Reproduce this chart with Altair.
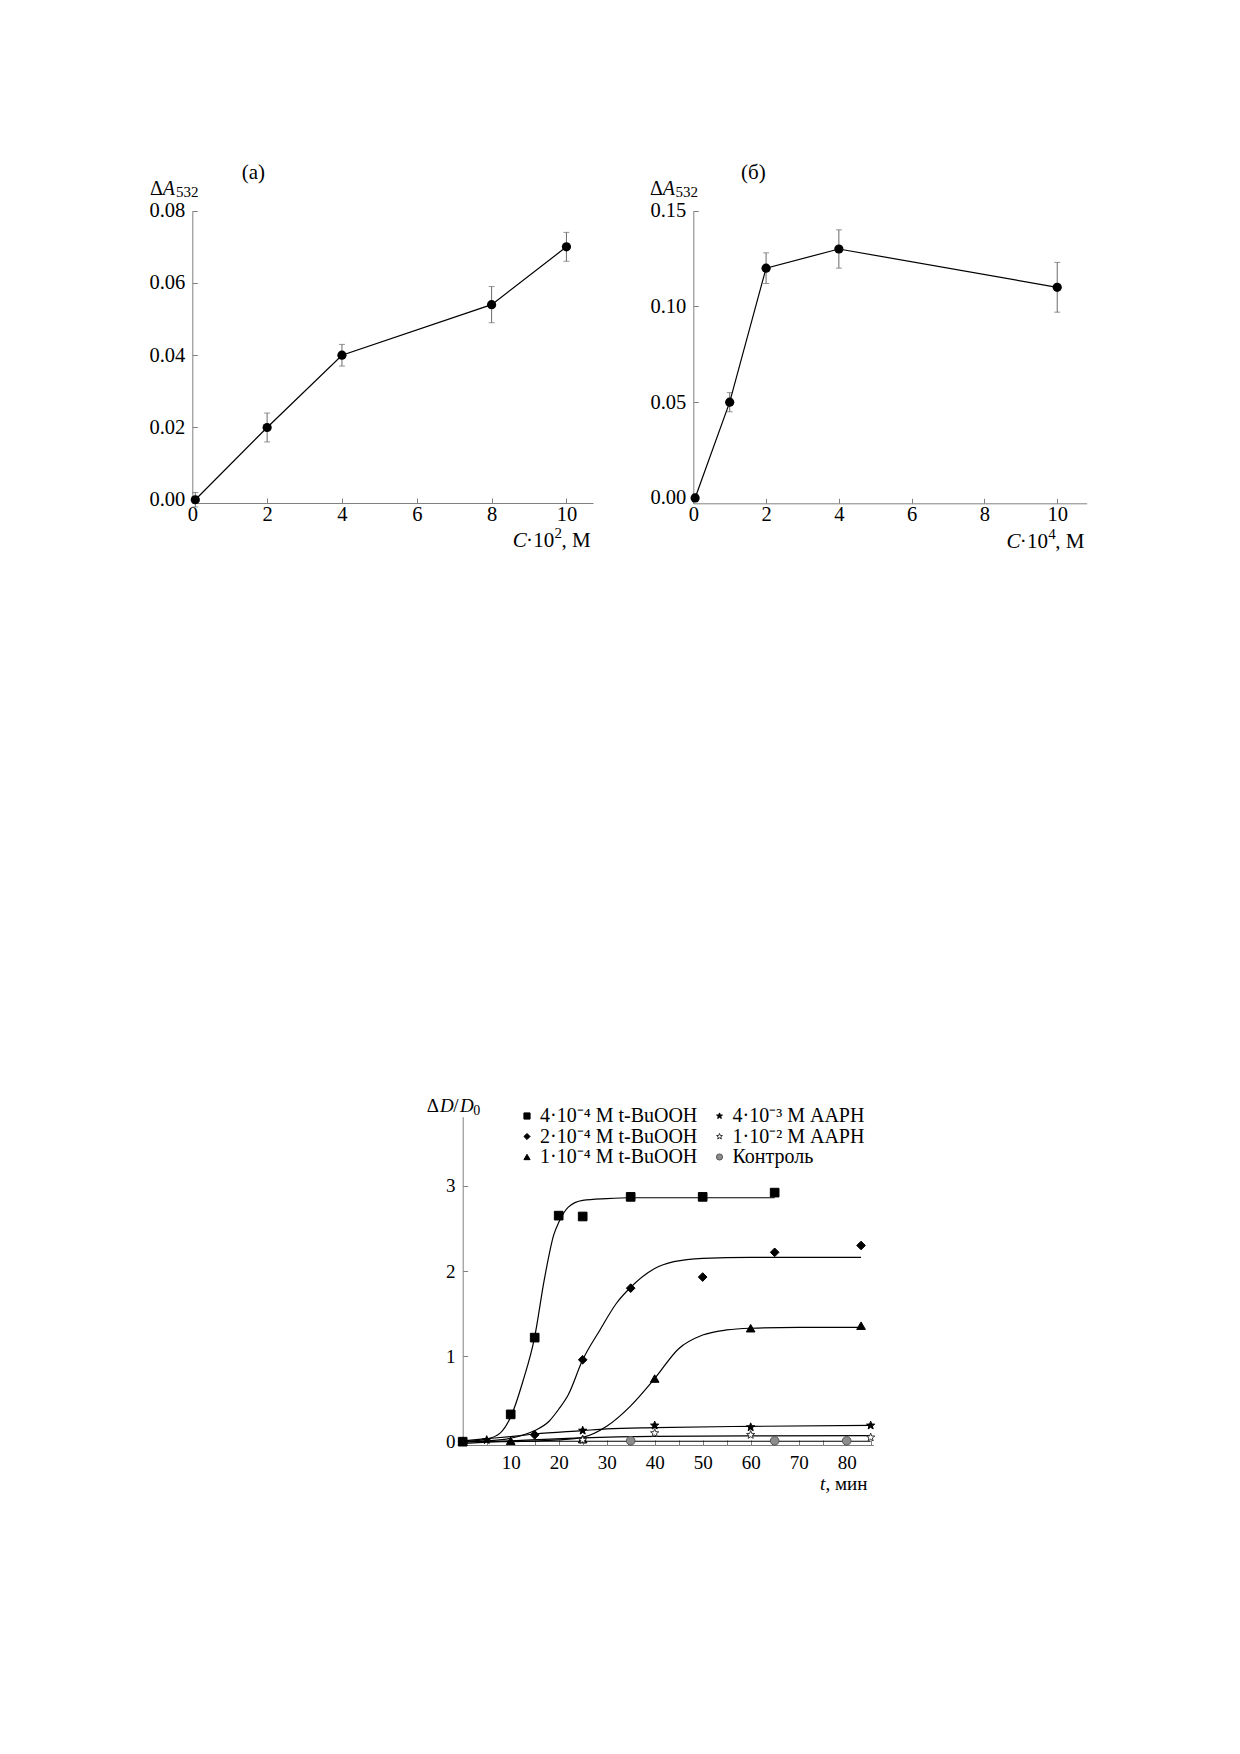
import altair as alt
import pandas as pd

FONT = "Liberation Serif"
W, H = 1224, 1540
AX = "#808080"

# ---------------- data: panel (a) ----------------
a_conc = [0.08, 2, 4, 8, 10]
a_dA = [0.0, 0.020, 0.040, 0.054, 0.070]
a_err = [0.002, 0.004, 0.003, 0.005, 0.004]
a_xticks = [0, 2, 4, 6, 8, 10]
a_yticks = [0.0, 0.02, 0.04, 0.06, 0.08]

# ---------------- data: panel (б) ----------------
b_conc = [0.05, 1, 2, 4, 10]
b_dA = [0.0, 0.050, 0.120, 0.130, 0.110]
b_err = [0.002, 0.005, 0.008, 0.010, 0.013]
b_xticks = [0, 2, 4, 6, 8, 10]
b_yticks = [0.0, 0.05, 0.10, 0.15]

# ---------------- data: kinetics panel ----------------
S1 = "4·10⁻⁴ М t-BuOOH"
S2 = "2·10⁻⁴ М t-BuOOH"
S3 = "1·10⁻⁴ М t-BuOOH"
S4 = "4·10⁻³ М AAPH"
S5 = "1·10⁻² М AAPH"
S6 = "Контроль"
legend_order = [S1, S2, S3, S4, S5, S6]

# measured points
sq_t = [0, 10, 15, 20, 25, 35, 50, 65]
sq_v = [0.0, 0.32, 1.22, 2.65, 2.64, 2.87, 2.87, 2.92]
di_t = [0, 15, 25, 35, 50, 65, 83]
di_v = [0.0, 0.08, 0.96, 1.80, 1.93, 2.22, 2.30]
tr_t = [0, 10, 25, 40, 60, 83]
tr_v = [0.0, 0.01, 0.03, 0.74, 1.33, 1.36]
st_t = [0, 5, 25, 40, 60, 85]
st_v = [0.0, 0.02, 0.13, 0.19, 0.17, 0.19]
hs_t = [25, 40, 60, 85]
hs_v = [0.02, 0.10, 0.08, 0.05]
ct_t = [35, 65, 80]
ct_v = [0.01, 0.01, 0.01]

# fitted curves
sq_ct = [0, 5, 7.8, 10, 12.5, 15, 17, 19, 20, 22, 25, 30, 35, 50, 65]
sq_cv = [0.0, 0.03, 0.10, 0.29, 0.70, 1.23, 1.90, 2.43, 2.57, 2.75, 2.83, 2.85, 2.86, 2.86, 2.86]
di_ct = [0, 5, 10, 15, 18, 20, 22, 25, 28.6, 32, 35, 40, 44, 50, 60, 70, 83]
di_cv = [0.0, 0.01, 0.04, 0.13, 0.24, 0.38, 0.55, 0.96, 1.31, 1.62, 1.81, 2.03, 2.11, 2.15, 2.16, 2.16, 2.16]
tr_ct = [0, 10, 20, 25, 30, 35, 40, 45, 50, 55, 60, 70, 83]
tr_cv = [0.0, 0.0, 0.02, 0.05, 0.18, 0.42, 0.74, 1.09, 1.25, 1.31, 1.33, 1.34, 1.34]
st_ct = [0, 5, 10, 15, 25, 30, 40, 60, 85]
st_cv = [0.01, 0.035, 0.06, 0.09, 0.13, 0.15, 0.165, 0.18, 0.19]
hs_ct = [0, 10, 25, 40, 60, 85]
hs_cv = [-0.02, 0.01, 0.045, 0.062, 0.068, 0.07]
ct_ct = [0, 85]
ct_cv = [0.005, 0.005]

c_xlabels = [10, 20, 30, 40, 50, 60, 70, 80]
c_xticks = [0, 5, 10, 15, 20, 25, 30, 35, 40, 45, 50, 55, 60, 65, 70, 75, 80, 85]
c_yticks = [0, 1, 2, 3]

STAR = ("M0,-1L0.2469,-0.3398L0.9511,-0.309L0.3995,0.1298L0.5878,0.809L0,0.42"
        "L-0.5878,0.809L-0.3995,0.1298L-0.9511,-0.309L-0.2469,-0.3398Z")
shape_range = ["square", "diamond", "triangle-up", STAR, STAR, "circle"]
fill_range = ["black", "black", "black", "black", "white", "#8c8c8c"]
stroke_range = ["black", "black", "black", "black", "#333333", "#555555"]


# ---------------- helpers ----------------
def main_axis(orient, offset, values, fmt, size, pad):
    return alt.Axis(orient=orient, offset=offset, values=values, format=fmt,
                    ticks=False, tickSize=0, grid=False, title=None,
                    domainColor=AX, domainWidth=1, labelColor="black",
                    labelFont=FONT, labelFontSize=size, labelPadding=pad,
                    labelFlush=False, labelOverlap=False)


def tick_axis(orient, offset, values):
    return alt.Axis(orient=orient, offset=offset, values=values, ticks=True,
                    tickSize=5, tickColor=AX, tickWidth=1, labels=False,
                    domain=False, grid=False, title=None)


def top_panel(conc, dA, err, xdom, xr, ydom, yr, xticks, yticks):
    df = pd.DataFrame({"c": conc, "v": dA,
                       "lo": [v - e for v, e in zip(dA, err)],
                       "hi": [v + e for v, e in zip(dA, err)]})
    xs = alt.Scale(domain=xdom, range=xr, nice=False, zero=False)
    ys = alt.Scale(domain=ydom, range=yr, nice=False, zero=False)
    xline = yr[0]
    yline = xr[0]
    base = alt.Chart(df)
    eb = base.mark_errorbar(ticks=True, size=6, thickness=1, color="#6a6a6a").encode(
        x=alt.X("c:Q", scale=xs, axis=None),
        y=alt.Y("lo:Q", scale=ys, axis=None),
        y2="hi:Q")
    line = base.mark_line(color="black", strokeWidth=1.2).encode(
        x=alt.X("c:Q", scale=xs, axis=main_axis("bottom", xline - H, xticks, "d", 20.5, 1.5)),
        y=alt.Y("v:Q", scale=ys, axis=main_axis("left", -yline, yticks, ".2f", 20.5, 7.5)))
    pts = base.mark_circle(size=85, color="black", opacity=1).encode(
        x=alt.X("c:Q", scale=xs, axis=tick_axis("top", -xline, xticks)),
        y=alt.Y("v:Q", scale=ys, axis=tick_axis("right", yline - W, yticks)))
    return alt.layer(eb, line, pts).resolve_axis(x="independent", y="independent")


def txt(s, x, y, size, align="left", italic=False):
    return alt.Chart().mark_text(
        text=s, font=FONT, fontSize=size, align=align, baseline="alphabetic",
        fontStyle="italic" if italic else "normal", color="black"
    ).encode(x=alt.value(x), y=alt.value(y))


def xtitle(R, base_y, sup):
    return [
        txt("C", R - 80.3, base_y, 21, italic=True),
        txt("·", R - 63.5, base_y, 21, align="center"),
        txt("10", R - 59.7, base_y, 21),
        txt(sup, R - 38.5, base_y - 9, 15),
        txt(", М", R - 31.5, base_y, 21),
    ]


# ---------------- panels ----------------
panel_a = top_panel(a_conc, a_dA, a_err, [0, 10.71], [184.3, 585],
                    [-0.0009, 0.08], [495, 202.7], a_xticks, a_yticks)
panel_b = top_panel(b_conc, b_dA, b_err, [0, 10.81], [685.3, 1078.7],
                    [-0.0028, 0.15], [495.3, 202.7], b_xticks, b_yticks)

pts_rows = []
for name, ts, vs in [(S1, sq_t, sq_v), (S2, di_t, di_v), (S3, tr_t, tr_v),
                     (S4, st_t, st_v), (S5, hs_t, hs_v), (S6, ct_t, ct_v)]:
    pts_rows += [{"s": name, "t": t, "v": v} for t, v in zip(ts, vs)]
df_pts = pd.DataFrame(pts_rows)

cur_rows = []
for name, ts, vs in [(S1, sq_ct, sq_cv), (S2, di_ct, di_cv), (S3, tr_ct, tr_cv),
                     (S4, st_ct, st_cv), (S5, hs_ct, hs_cv), (S6, ct_ct, ct_cv)]:
    cur_rows += [{"s": name, "t": t, "v": v} for t, v in zip(ts, vs)]
df_cur = pd.DataFrame(cur_rows)

xs_c = alt.Scale(domain=[0, 85.55], range=[454.7, 865.3], nice=False, zero=False)
ys_c = alt.Scale(domain=[-0.039, 3.81], range=[1437, 1108.7], nice=False, zero=False)

leg = alt.Legend(title=None, orient="none", legendX=509, legendY=1098, columns=2,
                 labelFont=FONT, labelFontSize=20, labelColor="black",
                 symbolSize=38, symbolStrokeWidth=1, labelOffset=3,
                 columnPadding=11.5, rowPadding=0.5, padding=0, labelLimit=400)

curves = alt.Chart(df_cur).mark_line(color="black", strokeWidth=1.2,
                                     interpolate="monotone").encode(
    x=alt.X("t:Q", scale=xs_c, axis=main_axis("bottom", 1437 - H, c_xlabels, "d", 19, 8.5)),
    y=alt.Y("v:Q", scale=ys_c, axis=main_axis("left", -454.7, c_yticks, "d", 19, 7.7)),
    detail="s:N")

points = alt.Chart(df_pts).mark_point(filled=True, size=75, opacity=1,
                                      strokeWidth=1).encode(
    x=alt.X("t:Q", scale=xs_c, axis=tick_axis("top", -1437, c_xticks)),
    y=alt.Y("v:Q", scale=ys_c, axis=tick_axis("right", 454.7 - W, c_yticks)),
    shape=alt.Shape("s:N", scale=alt.Scale(domain=legend_order, range=shape_range), legend=leg),
    fill=alt.Fill("s:N", scale=alt.Scale(domain=legend_order, range=fill_range), legend=leg),
    stroke=alt.Stroke("s:N", scale=alt.Scale(domain=legend_order, range=stroke_range), legend=leg))

panel_c = alt.layer(curves, points).resolve_axis(x="independent", y="independent")

# ---------------- titles ----------------
texts = [
    txt("(a)", 245.3, 170.5, 21, align="center"),
    txt("(б)", 745.3, 170.5, 21, align="center"),
    # y titles
    txt("Δ", 142, 186.5, 20), txt("A", 154.7, 186.5, 20, italic=True), txt("532", 168, 189, 15),
    txt("Δ", 642, 186.5, 20), txt("A", 654.7, 186.5, 20, italic=True), txt("532", 667.5, 189, 15),
    # kinetics titles
    txt("Δ", 418.7, 1103.7, 19), txt("D", 432, 1103.7, 19, italic=True),
    txt("/", 445.3, 1103.7, 19), txt("D", 452, 1103.7, 19, italic=True),
    txt("0", 465.3, 1107, 14),
    txt("t", 812, 1482, 19, italic=True), txt(", мин", 817.5, 1482, 19),
] + xtitle(585, 539.3, "2") + xtitle(1078.7, 540.3, "4")

chart = alt.layer(panel_a, panel_b, panel_c, *texts).resolve_scale(
    x="independent", y="independent"
).properties(
    width=W, height=H, autosize=alt.AutoSizeParams(type="none"), padding=0,
    background="white"
).configure_view(strokeWidth=0)

chart.save("out.html", embed_options={"renderer": "svg", "actions": False})
